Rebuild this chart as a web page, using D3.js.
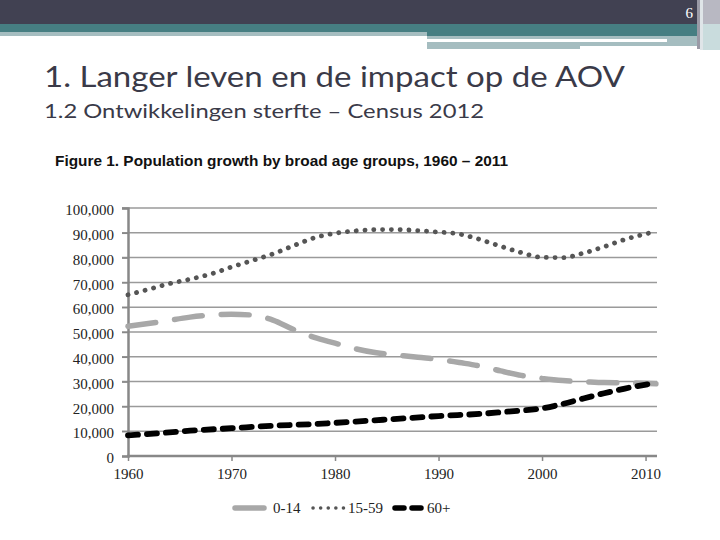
<!DOCTYPE html>
<html><head><meta charset="utf-8">
<script src="https://cdn.jsdelivr.net/npm/d3@7"></script>
<style>html,body{margin:0;padding:0;background:#fff;}svg{display:block;}</style>
</head><body>
<svg id="c" width="720" height="540"></svg>
<script>
// ---- data ----
const slideNumber = "6";
const slideTitle = "1. Langer leven en de impact op de AOV";
const slideSubtitle = "1.2 Ontwikkelingen sterfte – Census 2012";
const figureTitle = "Figure 1. Population growth by broad age groups, 1960 – 2011";
const seriesNames = ["0-14", "15-59", "60+"];
const yTicks = [0,10000,20000,30000,40000,50000,60000,70000,80000,90000,100000];
const xTicks = [1960,1970,1980,1990,2000,2010];

const years014 = [1960,1963,1966,1968,1970,1972,1974,1976,1978,1980,1982,1984,1986,1988,1990,1992,1994,1996,1998,2000,2002,2004,2006,2008,2011];
const vals014  = [52300,54000,56000,56800,57200,56800,54800,51000,47800,45500,43200,41600,40700,39800,39000,37700,36300,34300,32500,31300,30400,30000,29600,29500,29100];

const years1559 = [1960,1962,1964,1966,1968,1970,1972,1974,1976,1978,1980,1982,1984,1986,1988,1990,1992,1994,1996,1998,2000,2002,2004,2006,2008,2011];
const vals1559  = [65000,67200,69500,71300,73400,76200,78800,81500,84800,88000,89800,90800,91300,91300,90900,90300,89500,87300,84600,82000,80100,80000,81800,84400,87300,90500];

const years60 = [1960,1963,1966,1970,1974,1978,1982,1986,1990,1994,1997,2000,2002,2004,2006,2008,2011];
const vals60  = [8300,9200,10200,11200,12200,12900,13900,15000,16100,17000,18000,19200,21000,23200,25300,27200,29500];

// ---- drawing ----
const svg = d3.select("#c");

// header decorations
svg.append("rect").attr("x",0).attr("y",0).attr("width",720).attr("height",24).attr("fill","#414152");
svg.append("rect").attr("x",0).attr("y",24).attr("width",700).attr("height",8).attr("fill","#467e82");
svg.append("rect").attr("x",0).attr("y",32).attr("width",427).attr("height",4).attr("fill","#a5bdc0");
svg.append("rect").attr("x",427).attr("y",32).attr("width",273).attr("height",4).attr("fill","#467e82");
svg.append("rect").attr("x",427).attr("y",36).attr("width",273).attr("height",3).attr("fill","#a5bdc0");
svg.append("rect").attr("x",427).attr("y",42).attr("width",273).attr("height",4).attr("fill","#a5bdc0");
svg.append("rect").attr("x",427).attr("y",46).attr("width",153).attr("height",3).attr("fill","#a5bdc0");
svg.append("rect").attr("x",667).attr("y",39).attr("width",33).attr("height",3).attr("fill","#a5bdc0");
svg.append("rect").attr("x",697).attr("y",0).attr("width",3).attr("height",49).attr("fill","#9a9aa6");
svg.append("rect").attr("x",703).attr("y",0).attr("width",17).attr("height",24).attr("fill","#b8b8c2");
svg.append("rect").attr("x",703).attr("y",24).attr("width",17).attr("height",26).attr("fill","#c9dcdd");
svg.append("rect").attr("x",700).attr("y",0).attr("width",3).attr("height",50).attr("fill","#dfe5e8");

svg.append("text").attr("x",693).attr("y",18).attr("text-anchor","end")
  .attr("font-family","Liberation Serif").attr("font-size",15).attr("fill","#ffffff").text(slideNumber);

svg.append("text").attr("x",44).attr("y",87)
  .attr("font-family","Lato, 'Open Sans', sans-serif").attr("font-size",28).attr("fill","#3a3a48")
  .attr("textLength",581).attr("lengthAdjust","spacingAndGlyphs").text(slideTitle);
svg.append("text").attr("x",44).attr("y",118)
  .attr("font-family","Lato, 'Open Sans', sans-serif").attr("font-size",18.5).attr("fill","#3a3a48")
  .attr("textLength",440).attr("lengthAdjust","spacingAndGlyphs").text(slideSubtitle);

svg.append("text").attr("x",55).attr("y",166)
  .attr("font-family","Liberation Sans, Arial, sans-serif").attr("font-weight","bold").attr("font-size",14.5).attr("fill","#111")
  .attr("textLength",453).attr("lengthAdjust","spacingAndGlyphs").text(figureTitle);

const x = d3.scaleLinear().domain([1960,2011]).range([128,655.9]);
const y = d3.scaleLinear().domain([0,100000]).range([456,208]);

// gridlines
svg.append("g").selectAll("line").data(yTicks.filter(d=>d>0)).join("line")
  .attr("x1",122).attr("x2",657).attr("y1",d=>y(d)).attr("y2",d=>y(d))
  .attr("stroke","#9a9a9a").attr("stroke-width",1.5);

// y axis
const yAxis = d3.axisLeft(y).tickValues(yTicks).tickFormat(d3.format(",")).tickSize(6).tickPadding(8);
const gy = svg.append("g").attr("transform","translate(128,0)").call(yAxis);
gy.select(".domain").attr("stroke","#888").attr("stroke-width",2.5);
gy.selectAll(".tick line").attr("stroke","#888").attr("stroke-width",1.5);
gy.selectAll(".tick text").attr("font-family","Liberation Serif, 'Times New Roman', serif").attr("font-size",15).attr("fill","#222").attr("dy","0.45em");

// x axis
const xAxis = d3.axisBottom(x).tickValues(xTicks).tickFormat(d3.format("d")).tickSize(5).tickPadding(7);
const gx = svg.append("g").attr("transform","translate(0,456)").call(xAxis);
gx.select(".domain").attr("stroke","#888").attr("stroke-width",2.5).attr("d","M127,0H657");
gx.selectAll(".tick line").attr("stroke","#888").attr("stroke-width",1.5);
gx.selectAll(".tick text").attr("font-family","Liberation Serif, 'Times New Roman', serif").attr("font-size",15).attr("fill","#222");

const line = d3.line().x(d=>x(d[0])).y(d=>y(d[1])).curve(d3.curveMonotoneX);
const styles = [
  {stroke:"#a8a8a8", width:5.5, dash:"28,19", cap:"round"},
  {stroke:"#555555", width:4.8, dash:"0.1,8.7", cap:"round"},
  {stroke:"#000000", width:5.8, dash:"10,9", cap:"round"}
];
const series = [
  d3.zip(years014, vals014),
  d3.zip(years1559, vals1559),
  d3.zip(years60, vals60)
];
series.forEach((s,i)=>{
  svg.append("path").datum(s).attr("d",line).attr("fill","none")
    .attr("stroke",styles[i].stroke).attr("stroke-width",styles[i].width)
    .attr("stroke-dasharray",styles[i].dash).attr("stroke-linecap",styles[i].cap);
});

// legend
const legendItems = [
  {x1:235, x2:264, tx:273},
  {x1:313, x2:345, tx:348},
  {x1:395, x2:425, tx:427}
];
const legDash = [null,"0.1,7.5","9,8"];
legendItems.forEach((l,i)=>{
  svg.append("line").attr("x1",l.x1).attr("x2",l.x2).attr("y1",508).attr("y2",508)
    .attr("stroke",styles[i].stroke).attr("stroke-width",i===1?3.5:5.5)
    .attr("stroke-dasharray",legDash[i]).attr("stroke-linecap","round");
  svg.append("text").attr("x",l.tx).attr("y",513)
    .attr("font-family","Liberation Serif, 'Times New Roman', serif").attr("font-size",15).attr("fill","#222")
    .text(seriesNames[i]);
});
</script>
</body></html>
